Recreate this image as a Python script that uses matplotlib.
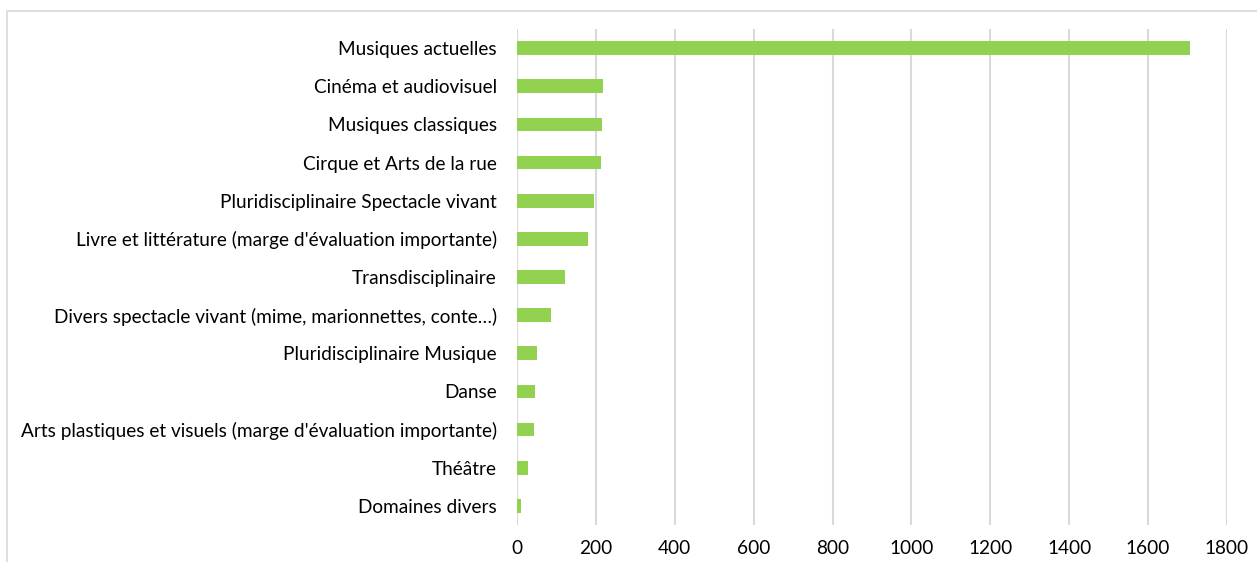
import matplotlib
matplotlib.use("Agg")
import matplotlib.pyplot as plt
from matplotlib.patches import Rectangle

categories = [
    "Musiques actuelles",
    "Cinéma et audiovisuel",
    "Musiques classiques",
    "Cirque et Arts de la rue",
    "Pluridisciplinaire Spectacle vivant",
    "Livre et littérature (marge d'évaluation importante)",
    "Transdisciplinaire",
    "Divers spectacle vivant (mime, marionnettes, conte…)",
    "Pluridisciplinaire Musique",
    "Danse",
    "Arts plastiques et visuels (marge d'évaluation importante)",
    "Théâtre",
    "Domaines divers",
]
values = [1707, 219, 216, 214, 196, 179, 122, 86, 51, 45, 43, 29, 10]
xticks = [0, 200, 400, 600, 800, 1000, 1200, 1400, 1600, 1800]

plt.rcParams['font.family'] = ['Lato', 'DejaVu Sans']

W, H = 1257, 562
fig = plt.figure(figsize=(W / 100, H / 100), dpi=100)
ax = fig.add_axes([517 / W, 1 - 525 / H, (1227 - 517) / W, (525 - 29) / H])

ypos = list(range(len(categories)))
ax.barh(ypos, values, height=0.36, color="#92D050", zorder=3)
ax.set_ylim(len(categories) - 0.5, -0.5)
ax.set_xlim(0, 1800)
ax.set_xticks(xticks)
ax.set_xticklabels([str(t) for t in xticks])
ax.set_yticks(ypos)
ax.set_yticklabels(categories)
ax.tick_params(axis="both", length=0, labelsize=13.7, colors="#000000")
ax.tick_params(axis="x", pad=11)
ax.tick_params(axis="y", pad=14.4)
ax.grid(axis="x", color="#d9d9d9", linewidth=1.5, zorder=0)
for s in ax.spines.values():
    s.set_visible(False)

fig.patches.append(Rectangle((6.5 / W, -0.5), 2.0, 1.5 - 10.5 / H, transform=fig.transFigure,
                             fill=False, edgecolor="#d9d9d9", linewidth=1.2))

fig.savefig("out.png", dpi=100)
